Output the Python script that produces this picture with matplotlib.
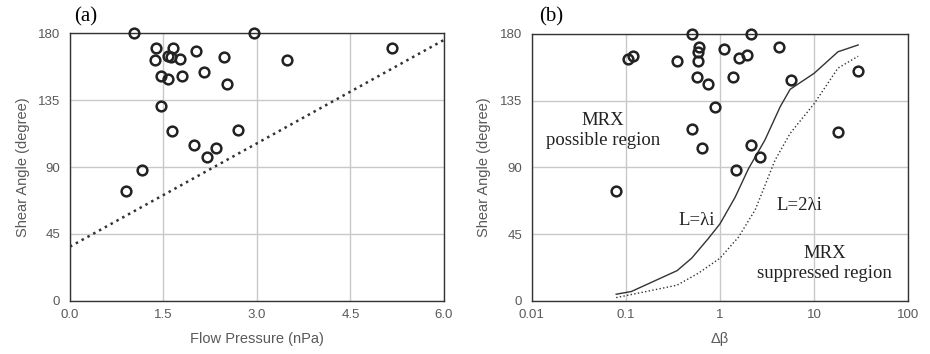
import matplotlib.pyplot as plt
import numpy as np

plt.rcParams['font.family'] = ['Liberation Sans', 'DejaVu Sans']

# panel (a): shear angle vs flow pressure
pressure = [1.02, 2.95, 5.16, 1.38, 1.66, 1.36, 1.58, 1.62, 1.76, 2.02, 2.47, 3.49,
            2.15, 1.46, 1.57, 1.79, 2.52, 1.46, 1.64, 2.69, 1.99, 2.35, 2.20, 1.16, 0.90]
shear_a = [180, 180, 170, 170, 170, 162, 165, 164, 163, 168, 164, 162,
           154, 151, 149, 151, 146, 131, 114, 115, 105, 103, 97, 88, 74]
fit_x = [0.0, 6.0]
fit_y = [36.5, 175.5]

# panel (b): shear angle vs delta beta
dbeta = [0.50, 2.12, 0.60, 0.59, 1.10, 4.19, 0.105, 0.12, 1.59, 1.94, 0.35, 0.59, 29.3,
         0.57, 0.745, 1.39, 5.71, 0.885, 0.50, 17.9, 0.65, 2.14, 2.65, 1.47, 0.079]
shear_b = [180, 180, 171, 168, 170, 171, 163, 165, 164, 166, 162, 162, 155,
           151, 146, 151, 149, 131, 116, 114, 103, 105, 97, 88, 74]

# L = lambda_i threshold
l1_x = [0.079, 0.114, 0.35, 0.50, 0.75, 1.0, 1.45, 2.0, 3.0, 4.36, 5.56, 10.0, 17.9, 29.3]
l1_y = [4.5, 6.3, 20.4, 28.8, 42, 52, 70, 89, 108.5, 131, 142.7, 153.5, 168, 172.6]
# L = 2 lambda_i threshold
l2_x = [0.079, 0.35, 0.59, 1.0, 1.57, 2.36, 3.85, 5.56, 10.0, 17.9, 29.3]
l2_y = [2.2, 10.6, 18.7, 28.8, 43, 61.3, 95, 113, 133, 157, 165]

yticks = [0, 45, 90, 135, 180]
tick_col = '#595959'
grid_col = '#c8c8c8'

fig = plt.figure(figsize=(9.3, 3.54), dpi=100)
ax1 = fig.add_axes([0.0753, 0.150, 0.402, 0.756])
ax2 = fig.add_axes([0.5717, 0.150, 0.405, 0.754])


def style(ax):
    ax.set_ylim(0, 180)
    ax.set_yticks(yticks)
    ax.grid(True, color=grid_col, linewidth=1.0)
    ax.set_axisbelow(True)
    ax.tick_params(length=0, labelsize=9.5, labelcolor=tick_col)
    ax.tick_params(axis='y', pad=7)
    ax.tick_params(axis='x', pad=6)
    for s in ax.spines.values():
        s.set_color('#333333')
        s.set_linewidth(1.0)
    ax.set_ylabel('Shear Angle (degree)', fontsize=10.5, color=tick_col, labelpad=6)


# (a)
ax1.plot(fit_x, fit_y, ls=':', color='#333333', lw=1.8, zorder=2)
ax1.plot(pressure, shear_a, 'o', mfc='none', mec='#222222', ms=7, mew=1.8,
         clip_on=False, zorder=3)
ax1.set_xlim(0, 6)
ax1.set_xticks([0, 1.5, 3.0, 4.5, 6.0])
ax1.set_xticklabels(['0.0', '1.5', '3.0', '4.5', '6.0'])
style(ax1)
ax1.set_xlabel('Flow Pressure (nPa)', fontsize=10.5, color=tick_col, labelpad=8)
fig.text(0.0925, 0.952, '(a)', fontsize=15, family='Liberation Serif',
         ha='center', va='center')

# (b)
ax2.set_xscale('log')
ax2.plot(l1_x, l1_y, '-', color='#333333', lw=1.0, zorder=2)
ax2.plot(l2_x, l2_y, ':', color='#333333', lw=1.0, zorder=2)
ax2.plot(dbeta, shear_b, 'o', mfc='none', mec='#222222', ms=7, mew=1.8,
         clip_on=False, zorder=3)
ax2.set_xlim(0.01, 100)
ax2.set_xticks([0.01, 0.1, 1, 10, 100])
ax2.set_xticklabels(['0.01', '0.1', '1', '10', '100'])
ax2.xaxis.set_minor_locator(plt.NullLocator())
style(ax2)
ax2.set_xlabel('Δβ', fontsize=10.5, color=tick_col, labelpad=8)
fig.text(0.5925, 0.952, '(b)', fontsize=15, family='Liberation Serif',
         ha='center', va='center')

serif = dict(family='Liberation Serif', fontsize=13.5, color='#222222', ha='center',
             va='center', linespacing=1.25)
ax2.text(0.057, 115, 'MRX\npossible region', **serif)
ax2.text(0.565, 54, 'L=λi', **serif)
ax2.text(7.0, 64, 'L=2λi', **serif)
ax2.text(13.0, 25, 'MRX\nsuppressed region', **serif)

fig.savefig('out.png', dpi=100)
